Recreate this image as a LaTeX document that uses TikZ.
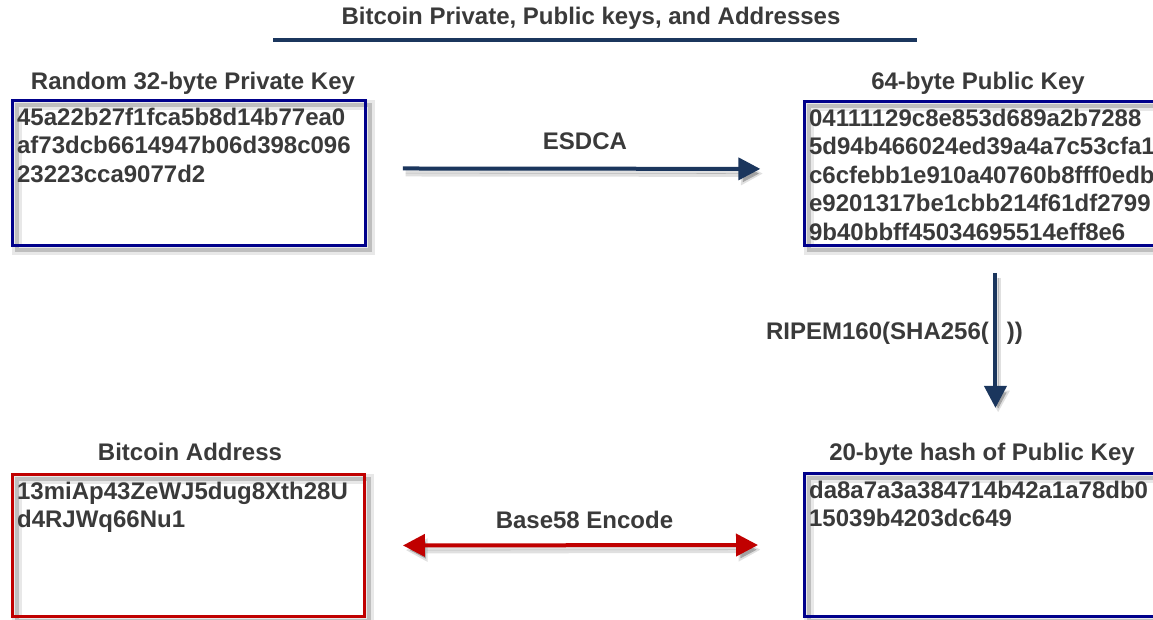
\documentclass[tikz,border=0pt]{standalone}
\usepackage{fontspec}
\setmainfont{Liberation Sans}
\usetikzlibrary{arrows.meta,positioning}

\definecolor{navyline}{HTML}{1B365D}
\definecolor{keyblue}{HTML}{00008B}
\definecolor{keyred}{HTML}{C00000}
\definecolor{hextext}{HTML}{3A3A3A}

\begin{document}
\begin{tikzpicture}[x=0.75pt,y=-0.75pt,
    every node/.style={font=\fontsize{18}{21.4}\selectfont\bfseries,text=hextext},
    keybox/.style={draw=#1,line width=2.2pt,anchor=north west,inner xsep=3.5pt,inner ysep=5.5pt,
      preaction={draw=black,opacity=.09,line width=7pt,transform canvas={shift={(3.5pt,-3.5pt)}}},
      preaction={draw=black,opacity=.18,line width=3pt,transform canvas={shift={(3.5pt,-3.5pt)}}}},
    caption/.style={inner sep=0pt},
    flow/.style={draw=#1,line width=3pt,
      preaction={draw=black,opacity=.12,line width=5pt,transform canvas={shift={(2pt,-3.5pt)}}},
      preaction={draw=black,opacity=.18,transform canvas={shift={(2pt,-3.5pt)}}}},
    bighead/.tip={Triangle[length=16.5pt,width=16.5pt]}]
  \useasboundingbox (0,0) rectangle (1153,619);
  \clip (0,0) rectangle (1153,619);

  % heading
  \node[caption] (title) at (591,18) {Bitcoin Private, Public keys, and Addresses};
  \draw[navyline,line width=2.6pt] (273,40) -- (917,40);

  % the four keys
  \node[keybox=keyblue] (priv) at (11,99) {\parbox[t][97.75pt][t]{257.75pt}{%
      45a22b27f1fca5b8d14b77ea0\\af73dcb6614947b06d398c096\\23223cca9077d2}};
  \node[keybox=keyblue] (pub) at (803,100) {\parbox[t][97pt][t]{279.5pt}{%
      04111129c8e853d689a2b7288\\5d94b466024ed39a4a7c53cfa1\\c6cfebb1e910a40760b8fff0edb\\
      e9201317be1cbb214f61df2799\\9b40bbff45034695514eff8e6}};
  \node[keybox=keyred] (addr) at (11,473) {\parbox[t][95.5pt][t]{257pt}{%
      13miAp43ZeWJ5dug8Xth28U\\d4RJWq66Nu1}};
  \node[keybox=keyblue] (hash) at (803,472) {\parbox[t][96.25pt][t]{279.5pt}{%
      da8a7a3a384714b42a1a78db0\\15039b4203dc649}};

  % their titles
  \node[caption] (privlbl) at (193,83) {Random 32-byte Private Key};
  \node[caption] (publbl) at (978,83) {64-byte Public Key};
  \node[caption] (addrlbl) at (190,452) {Bitcoin Address};
  \node[caption] (hashlbl) at (982,454) {20-byte hash of Public Key};

  % steps between them
  \draw[flow=navyline,-bighead,shorten <=27pt,shorten >=32pt]
    ([yshift=3.4pt]priv.east) -- ([yshift=3.4pt]pub.west)
    node[midway,above=13pt,caption] {ESDCA};
  \draw[flow=navyline,-bighead,shorten <=19.5pt,shorten >=26pt]
    (pub.south) -- (pub.south |- hashlbl.north)
    node[pos=.44,anchor=west,xshift=-173.5pt,caption] {RIPEM160(SHA256(\hspace{13.5pt}))};
  \draw[flow=keyred,bighead-bighead,shorten <=27.75pt,shorten >=33.75pt]
    (addr.east) -- (hash.west)
    node[midway,above=11pt,caption] {Base58 Encode};
\end{tikzpicture}
\end{document}
